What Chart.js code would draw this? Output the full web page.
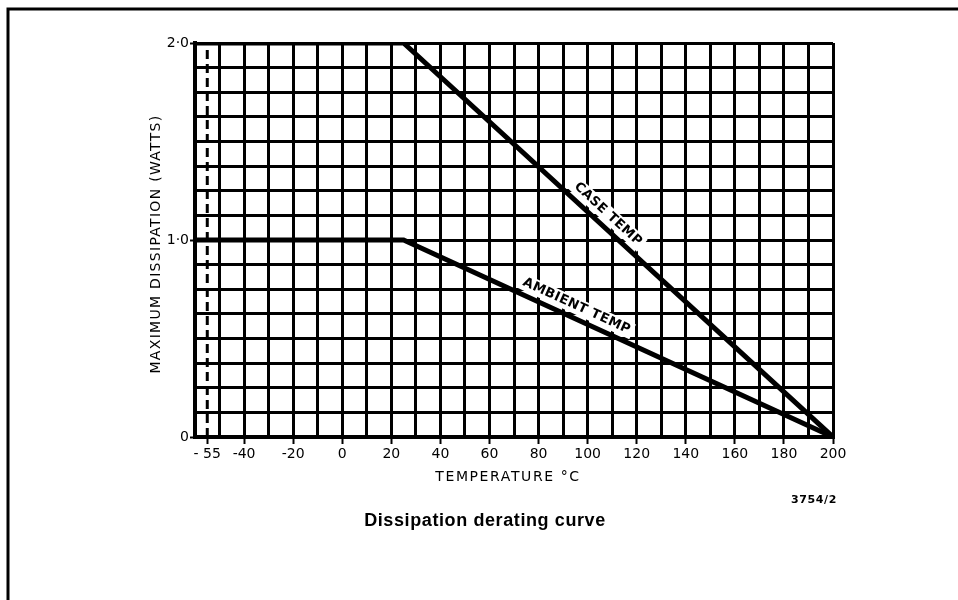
<!DOCTYPE html>
<html><head><meta charset="utf-8">
<script src="https://cdn.jsdelivr.net/npm/chart.js@4"></script>
<style>html,body{margin:0;padding:0;background:#fff}canvas{display:block}</style>
</head><body><canvas id="c" width="958" height="600"></canvas>
<script>
// ---- data ----
const temperatures = [-60, 25, 200];
const caseTempDissipation = [2.0, 2.0, 0];
const ambientTempDissipation = [1.0, 1.0, 0];
const minRatedTemp = [-55, -55];
const minRatedSpan = [0, 2.0];
const xTickLabels = {'-55': '- 55', '-40': '-40', '-20': '-20', '0': '0', '20': '20', '40': '40', '60': '60', '80': '80', '100': '100', '120': '120', '140': '140', '160': '160', '180': '180', '200': '200'};
const yTickLabels = {'0': '0', '1': '1·0', '2': '2·0'};
const seriesLabels = ['CASE TEMP', 'AMBIENT TEMP'];
const labelAtTemp = [105, 93.5];

const FONT = "'DejaVu Sans', sans-serif";
const pts = (xs, ys) => xs.map((x, i) => ({x: x, y: ys[i]}));

const decor = {
  id: 'decor',
  beforeDatasetsDraw(chart) {
    const ctx = chart.ctx, xs = chart.scales.x, ys = chart.scales.y;
    [caseTempDissipation, ambientTempDissipation].forEach((vals, k) => {
      const t = labelAtTemp[k];
      let i = 0;
      while (i < temperatures.length - 2 && t > temperatures[i + 1]) i++;
      const t0 = temperatures[i], t1 = temperatures[i + 1];
      const v = vals[i] + (vals[i + 1] - vals[i]) * (t - t0) / (t1 - t0);
      const px = xs.getPixelForValue(t), py = ys.getPixelForValue(v);
      const ang = Math.atan2(ys.getPixelForValue(vals[i + 1]) - ys.getPixelForValue(vals[i]),
                             xs.getPixelForValue(t1) - xs.getPixelForValue(t0));
      ctx.save();
      ctx.translate(px, py);
      ctx.rotate(ang);
      ctx.translate(0, -12);
      ctx.font = "bold 13px " + FONT;
      ctx.letterSpacing = '0.5px';
      const w = ctx.measureText(seriesLabels[k]).width;
      ctx.fillStyle = '#fff';
      ctx.fillRect(-w / 2 - 3, -8, w + 6, 16);
      ctx.fillStyle = '#000';
      ctx.textAlign = 'center';
      ctx.textBaseline = 'middle';
      ctx.fillText(seriesLabels[k], 0, 0);
      ctx.restore();
    });
  },
  afterDraw(chart) {
    const ctx = chart.ctx;
    ctx.save();
    ctx.strokeStyle = '#000';
    ctx.lineWidth = 3;
    ctx.beginPath();
    ctx.moveTo(8, 600); ctx.lineTo(8, 9); ctx.lineTo(958, 9);
    ctx.stroke();
    ctx.fillStyle = '#000';
    ctx.textAlign = 'center';
    ctx.textBaseline = 'middle';
    ctx.font = "14px " + FONT;
    ctx.letterSpacing = '1.6px';
    ctx.fillText('TEMPERATURE °C', 508, 477);
    ctx.save();
    ctx.translate(156, 244);
    ctx.rotate(-Math.PI / 2);
    ctx.letterSpacing = '1.3px';
    ctx.fillText('MAXIMUM DISSIPATION (WATTS)', 0, 0);
    ctx.restore();
    ctx.font = "bold 11px " + FONT;
    ctx.letterSpacing = '0.6px';
    ctx.fillText('3754/2', 814, 500);
    ctx.font = "bold 18px 'Liberation Sans', sans-serif";
    ctx.letterSpacing = '0.6px';
    ctx.fillText('Dissipation derating curve', 485, 521);
    ctx.restore();
  }
};

new Chart(document.getElementById('c'), {
  type: 'scatter',
  data: {
    datasets: [
      {label: seriesLabels[0], data: pts(temperatures, caseTempDissipation), showLine: true, borderColor: '#000', borderWidth: 5, pointRadius: 0, tension: 0},
      {label: seriesLabels[1], data: pts(temperatures, ambientTempDissipation), showLine: true, borderColor: '#000', borderWidth: 5, pointRadius: 0, tension: 0},
      {label: 'min', data: pts(minRatedTemp, minRatedSpan), showLine: true, borderColor: '#000', borderWidth: 3, borderDash: [9, 5], pointRadius: 0}
    ]
  },
  options: {
    responsive: false, animation: false, devicePixelRatio: 1,
    layout: {padding: {left: 0, right: 125, top: 43, bottom: 0}},
    plugins: {legend: {display: false}, tooltip: {enabled: false}},
    scales: {
      x: {
        type: 'linear', min: -60, max: 200,
        afterBuildTicks(s) {
          const vals = s.ticks.map(t => t.value);
          vals.push(-55);
          vals.sort((a, b) => a - b);
          s.ticks = vals.map(v => ({value: v}));
        },
        afterFit(s) { s.height = 163; },
        ticks: {stepSize: 10, autoSkip: false, maxRotation: 0, minRotation: 0, padding: 2, color: '#000',
          font: {family: FONT, size: 14},
          callback: v => xTickLabels[String(v)] || ''},
        grid: {
          color: c => (c.tick && c.tick.value === -55) ? 'rgba(0,0,0,0)' : '#000',
          lineWidth: 3, tickLength: 7, tickWidth: 2,
          tickColor: c => (c.tick && xTickLabels[String(c.tick.value)] !== undefined) ? '#000' : 'rgba(0,0,0,0)'
        },
        border: {color: '#000', width: 4}
      },
      y: {
        type: 'linear', min: 0, max: 2,
        afterFit(s) { s.width = 195; },
        ticks: {stepSize: 0.125, autoSkip: false, padding: 1, color: '#000',
          font: {family: FONT, size: 14},
          callback: v => yTickLabels[String(v)] || ''},
        grid: {
          color: '#000', lineWidth: 3, tickLength: 5, tickWidth: 2,
          tickColor: c => (c.tick && yTickLabels[String(c.tick.value)] !== undefined) ? '#000' : 'rgba(0,0,0,0)'
        },
        border: {color: '#000', width: 4}
      }
    }
  },
  plugins: [decor]
});
</script></body></html>
